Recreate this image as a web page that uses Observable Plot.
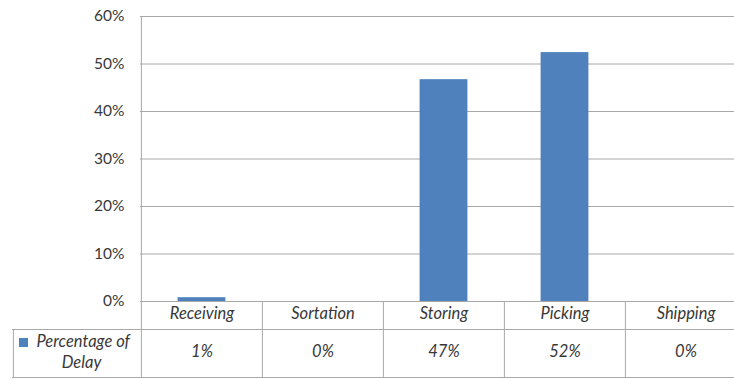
<!DOCTYPE html>
<html><head><meta charset="utf-8">
<script src="https://cdn.jsdelivr.net/npm/d3@7"></script>
<script src="https://cdn.jsdelivr.net/npm/@observablehq/plot@0.6"></script>
<style>html,body{margin:0;padding:0;background:#fff;overflow:hidden}svg{display:block}</style>
</head><body><div id="chart"></div>
<script>
// ---- data ----
const categories = ["Receiving", "Sortation", "Storing", "Picking", "Shipping"];
const values = [0.008, 0, 0.467, 0.524, 0];
const yTicks = [0, 0.1, 0.2, 0.3, 0.4, 0.5, 0.6];
const seriesName = ["Percentage of", "Delay"];

// ---- style / layout ----
const barColor = "#4F81BD";
const lineColor = "#a8a8a8";
const textColor = "#383838";
const fmt = d3.format(".0%");
const chartW = 734, chartH = 379, mLeft = 140, mTop = 16, mBottom = 78;
const step = 121.25;          // width of one table column
const row1 = 28, row2 = 76;   // table row bottoms below the 0% line
const legendLeft = 128;       // legend column width
const tableFont = 16.5;

const plot = Plot.plot({
  width: chartW, height: chartH,
  marginLeft: mLeft, marginRight: 0, marginTop: mTop, marginBottom: mBottom,
  style: {fontFamily: "Lato, 'Open Sans', sans-serif", fontSize: "15px", color: textColor, background: "#fff", overflow: "visible"},
  x: {type: "band", domain: categories, range: [mLeft, mLeft + step * categories.length], padding: 0, axis: null},
  y: {domain: [0, 0.6]},
  marks: [
    Plot.gridY(yTicks, {stroke: lineColor, strokeOpacity: 1}),
    Plot.axisY(yTicks, {tickFormat: fmt, tickSize: 0, tickPadding: 16, fontSize: 15.5, label: null, fill: textColor}),
    Plot.barY(values, {x: categories, y: values, fill: barColor, insetLeft: 36.6, insetRight: 36.6}),
    // value axis line, extended through the table
    Plot.ruleX([categories[0]], {x: d => d, y1: yTicks[yTicks.length - 1], y2: 0, dx: -step / 2, insetBottom: -row2, stroke: lineColor}),
    // column dividers in the table
    Plot.ruleX(categories.slice(1), {x: d => d, y1: 0, y2: 0, dx: -step / 2, insetBottom: -row2, stroke: lineColor}),
    // legend cell left border
    Plot.ruleX([categories[0]], {x: d => d, y1: 0, y2: 0, dx: -step / 2 - legendLeft, insetTop: row1, insetBottom: -row2, stroke: lineColor}),
    // table horizontal lines
    Plot.ruleY([0], {dy: row1, insetLeft: -legendLeft, stroke: lineColor}),
    Plot.ruleY([0], {dy: row2, insetLeft: -legendLeft, stroke: lineColor}),
    // category row
    Plot.text(categories, {x: d => d, frameAnchor: "bottom", dy: 17, fontStyle: "italic", fontSize: tableFont, fill: textColor}),
    // value row
    Plot.text(values, {x: categories, text: d => fmt(d), frameAnchor: "bottom", dy: 55, fontStyle: "italic", fontSize: tableFont, fill: textColor}),
    // legend
    Plot.dot([seriesName], {frameAnchor: "bottom-left", dx: -117, dy: 41, symbol: "square", r: 5.1, fill: barColor, stroke: null}),
    Plot.text([seriesName[0]], {frameAnchor: "bottom-left", dx: -104, dy: 45, textAnchor: "start", fontStyle: "italic", fontSize: tableFont, fill: textColor}),
    Plot.text([seriesName[1]], {frameAnchor: "bottom-left", dx: -59, dy: 66, textAnchor: "middle", fontStyle: "italic", fontSize: tableFont, fill: textColor})
  ]
});
document.getElementById("chart").appendChild(plot);
</script>
</body></html>
